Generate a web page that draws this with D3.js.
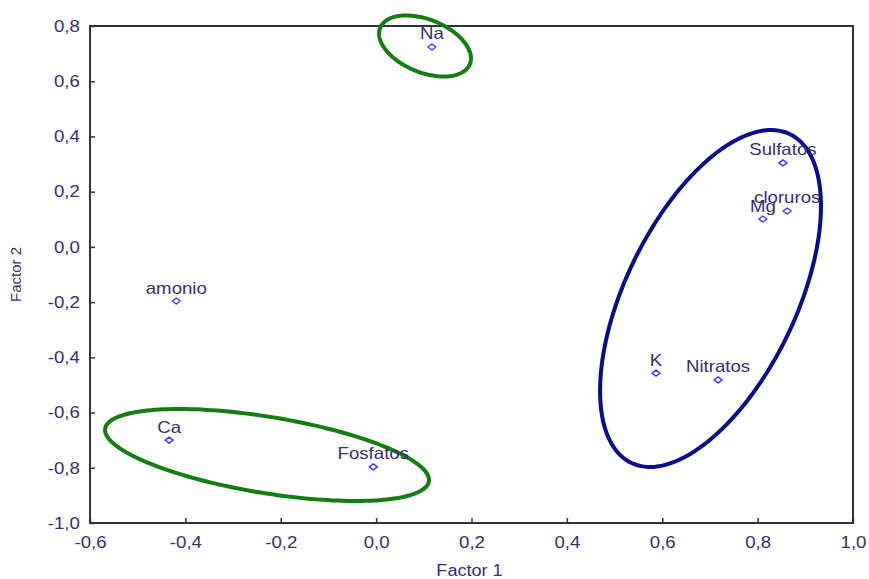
<!DOCTYPE html>
<html>
<head>
<meta charset="utf-8">
<script src="https://cdn.jsdelivr.net/npm/d3@7"></script>
<style>
  html, body { margin: 0; padding: 0; background: #fff; }
  svg { display: block; }
</style>
</head>
<body>
<svg id="chart" width="869" height="579"></svg>
<script>
// ---- data ----
const categories = ["Na", "Sulfatos", "cloruros", "Mg", "amonio", "K", "Nitratos", "Ca", "Fosfatos"];
const factor1 = [0.117, 0.853, 0.862, 0.811, -0.419, 0.587, 0.717, -0.434, -0.006];
const factor2 = [0.724, 0.304, 0.130, 0.101, -0.196, -0.457, -0.482, -0.700, -0.797];
const xTicks = [-0.6, -0.4, -0.2, 0.0, 0.2, 0.4, 0.6, 0.8, 1.0];
const yTicks = [-1.0, -0.8, -0.6, -0.4, -0.2, 0.0, 0.2, 0.4, 0.6, 0.8];
const xTitle = "Factor 1";
const yTitle = "Factor 2";
// group ellipses in data units: centre + two conjugate semi-diameters
const ellipseCx = [0.1025, -0.2288, 0.7012];
const ellipseCy = [0.7276, -0.7537, -0.1869];
const ellipseU = [[0.0941, -0.0657], [0.3394, -0.0958], [0.1665, 0.5951]];
const ellipseV = [[-0.0208, -0.0890], [-0.0129, -0.1362], [0.1610, -0.1345]];
const ellipseColors = ["#127e12", "#127e12", "#0b0b8e"];

// ---- layout ----
const W = 869, H = 579;
const margin = {left: 90, top: 26, right: 16, bottom: 56};
const svg = d3.select("#chart");
const x = d3.scaleLinear().domain([-0.6, 1.0]).range([margin.left, W - margin.right]);
const y = d3.scaleLinear().domain([-1.0, 0.8]).range([H - margin.bottom, margin.top]);
const textColor = "#3a2d6e";
const fontFam = "'Liberation Sans', Arial, sans-serif";
const sx = 1.13;
const fmt = d => d.toFixed(1).replace(".", ",");

// axes
const gx = svg.append("g")
  .attr("transform", `translate(0,${y(-1.0)})`)
  .call(d3.axisBottom(x).tickValues(xTicks).tickSize(-5).tickPadding(13).tickFormat(fmt));
const gy = svg.append("g")
  .attr("transform", `translate(${x(-0.6)},0)`)
  .call(d3.axisLeft(y).tickValues(yTicks).tickSize(-5).tickPadding(9).tickFormat(fmt));
[gx, gy].forEach(g => {
  g.select(".domain").remove();
  g.selectAll(".tick line").attr("stroke", "#333").attr("stroke-width", 1.5);
  g.selectAll(".tick text")
    .attr("fill", textColor)
    .style("font-family", fontFam)
    .style("font-size", "16.5px")
    .attr("transform", `scale(${sx},1)`);
});

// frame
svg.append("rect")
  .attr("x", x(-0.6)).attr("y", y(0.8))
  .attr("width", x(1.0) - x(-0.6)).attr("height", y(-1.0) - y(0.8))
  .attr("fill", "none").attr("stroke", "#333").attr("stroke-width", 2);

// axis titles
svg.append("text")
  .attr("transform", `translate(${(x(-0.6) + x(1.0)) / 2 - 2},576) scale(${sx},1)`)
  .attr("text-anchor", "middle")
  .attr("fill", textColor)
  .style("font-family", fontFam).style("font-size", "16px")
  .text(xTitle);
svg.append("text")
  .attr("transform", `translate(21,${(y(0.8) + y(-1.0)) / 2}) rotate(-90)`)
  .attr("text-anchor", "middle")
  .attr("fill", textColor)
  .style("font-family", fontFam).style("font-size", "15px")
  .text(yTitle);

// ellipses
const ts = d3.range(0, 2 * Math.PI + 0.001, Math.PI / 90);
const line = d3.line().x(p => x(p[0])).y(p => y(p[1])).curve(d3.curveLinearClosed);
ellipseCx.forEach((cx, i) => {
  const u = ellipseU[i], v = ellipseV[i], cy = ellipseCy[i];
  const pts = ts.slice(0, -1).map(t => [
    cx + u[0] * Math.cos(t) + v[0] * Math.sin(t),
    cy + u[1] * Math.cos(t) + v[1] * Math.sin(t)
  ]);
  svg.append("path")
    .attr("d", line(pts))
    .attr("fill", "none")
    .attr("stroke", ellipseColors[i])
    .attr("stroke-width", 4);
});

// points
const pts = categories.map((c, i) => ({name: c, f1: factor1[i], f2: factor2[i]}));
const diamond = "M-4,0 L0,-3 L4,0 L0,3 Z";
svg.append("g").selectAll("path").data(pts).join("path")
  .attr("transform", d => `translate(${x(d.f1)},${y(d.f2)})`)
  .attr("d", diamond)
  .attr("fill", "none")
  .attr("stroke", "#3d3dff")
  .attr("stroke-width", 1.5)
  .attr("stroke-linejoin", "round");

svg.append("g").selectAll("text").data(pts).join("text")
  .attr("transform", d => `translate(${x(d.f1)},${y(d.f2) - 7.5}) scale(${sx},1)`)
  .attr("text-anchor", "middle")
  .attr("fill", textColor)
  .style("font-family", fontFam)
  .style("font-size", "16.5px")
  .text(d => d.name);
</script>
</body>
</html>
